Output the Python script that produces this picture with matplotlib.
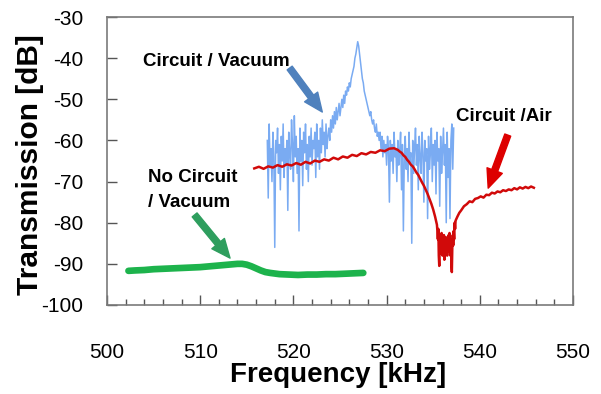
import numpy as np
import matplotlib
matplotlib.use("Agg")
import matplotlib.pyplot as plt
from matplotlib.ticker import MultipleLocator

plt.rcParams['font.family'] = ['Liberation Sans', 'DejaVu Sans']
plt.rcParams['axes.unicode_minus'] = False

# ---- Circuit / Vacuum (blue), sampled every 0.1 kHz from 517.2 kHz ----
vac_start = 517.2
vac_step = 0.1
vac_db = [
    -60, -74, -56, -66, -62, -70, -58, -64, -86, -60,
    -63, -57, -68, -61, -72, -59, -65, -56, -69, -62,
    -66, -60, -77, -58, -63, -67, -55, -61, -70, -54,
    -64, -59, -68, -62, -82, -57, -65, -60, -71, -58,
    -63, -56, -67, -61, -70, -59, -64, -57, -66, -60,
    -62, -58, -69, -56, -64, -60, -67, -57, -63, -55,
    -61, -58, -64, -56, -62, -59, -57, -60, -55, -58,
    -54, -57, -53, -56, -52, -55, -53, -51, -54, -52,
    -50, -52, -49, -51, -48, -49, -47, -48, -46, -47,
    -45, -44, -43, -42, -40, -39, -37.5, -36, -37, -39,
    -41, -43, -45, -46, -48, -49, -50, -51, -52, -53,
    -54, -53, -55, -56, -55, -57, -58, -56, -59, -58,
    -60, -58, -62, -59, -64, -60, -63, -61, -66, -59,
    -62, -75, -60, -65, -61, -68, -58, -64, -62, -70,
    -60, -66, -63, -58, -72, -61, -82, -64, -59, -67,
    -62, -70, -58, -65, -63, -85, -60, -68, -62, -57,
    -66, -61, -72, -59, -64, -68, -58, -63, -75, -60,
    -65, -62, -79, -59, -67, -63, -57, -70, -61, -66,
    -60, -73, -58, -65, -62, -76, -59, -68, -63, -57,
    -66, -61, -80, -58, -69, -62, -79, -60, -56, -67,
    -57,
]
vac_freq = vac_start + vac_step * np.arange(len(vac_db))

# ---- Circuit / Air (red) ----
air_freq = [
    515.8, 516.3, 516.8, 517.3, 517.8, 518.3, 518.8, 519.3, 519.8, 520.3,
    520.8, 521.3, 521.8, 522.3, 522.8, 523.3, 523.8, 524.3, 524.8, 525.3,
    525.8, 526.3, 526.8, 527.3, 527.8, 528.3, 528.8, 529.3, 529.8, 530.3,
    530.8,
    531.0, 531.2, 531.4, 531.6, 531.8, 532.0, 532.2, 532.4, 532.6, 532.8,
    533.0, 533.2, 533.4, 533.6, 533.8, 534.0, 534.2, 534.4, 534.6, 534.8,
    535.0, 535.2,
    535.40, 535.45, 535.50, 535.55, 535.60, 535.65, 535.70, 535.75, 535.80, 535.85,
    535.90, 535.95, 536.00, 536.05, 536.10, 536.15, 536.20, 536.25, 536.30, 536.35,
    536.40, 536.45, 536.50, 536.55, 536.60, 536.65, 536.70, 536.75, 536.80, 536.85,
    536.90, 536.95, 537.00, 537.05, 537.10, 537.15, 537.20, 537.25, 537.30, 537.35,
    537.40,
    537.6, 537.8, 538.0, 538.3, 538.6, 538.9, 539.2, 539.5, 539.8, 540.1,
    540.4, 540.7, 541.0, 541.3, 541.6, 541.9, 542.2, 542.5, 542.8, 543.1,
    543.4, 543.7, 544.0, 544.3, 544.6, 544.9, 545.2, 545.5, 545.8,
]
air_db = [
    -66.8, -66.4, -66.9, -66.3, -66.6, -66.0, -66.4, -65.8, -66.1, -65.5,
    -65.9, -65.2, -65.6, -64.9, -65.2, -64.6, -64.9, -64.2, -64.6, -63.9,
    -64.2, -63.5, -63.8, -63.1, -63.4, -62.8, -63.0, -62.4, -62.6, -62.0,
    -61.9,
    -62.1, -62.3, -62.7, -63.0, -63.6, -64.0, -64.7, -65.2, -65.9, -66.3,
    -67.0, -67.8, -68.4, -69.3, -70.2, -71.0, -72.0, -73.0, -74.2, -75.4,
    -76.8, -78.5,
    -80.5, -82, -84, -81.5, -88, -90.5, -84, -86, -83, -87.5,
    -82.5, -85, -88, -84, -86.5, -83, -89, -85, -87, -83.5,
    -86, -84, -88, -85, -87, -83, -86, -82.5, -85, -88,
    -84, -90, -92, -86, -83, -85.5, -82, -84, -80, -81.5,
    -79.5,
    -78.5, -77.6, -77.0, -76.0, -75.5, -74.8, -75.0, -74.2, -74.0, -73.6,
    -73.9, -73.2, -73.3, -72.7, -72.9, -72.4, -72.6, -72.1, -72.3, -71.9,
    -72.1, -71.6, -71.9, -71.4, -71.7, -71.3, -71.6, -71.2, -71.5,
]

# ---- No Circuit / Vacuum (green) ----
nc_freq = [502.3, 503, 504, 505, 506, 507, 508, 509, 510, 511, 512, 513,
           514, 514.5, 515, 515.5, 516, 516.5, 517, 517.5, 518.5, 519.5,
           520.5, 521.5, 522.5, 523.5, 524.5, 525.5, 526.5, 527.5]
nc_db = [-91.7, -91.6, -91.5, -91.3, -91.2, -91.1, -91.0, -90.9, -90.8, -90.6,
         -90.4, -90.2, -90.0, -90.0, -90.2, -90.6, -91.1, -91.6, -92.0, -92.2,
         -92.5, -92.6, -92.7, -92.6, -92.6, -92.5, -92.5, -92.4, -92.3, -92.2]

x_ticks = [500, 510, 520, 530, 540, 550]
y_ticks = [-100, -90, -80, -70, -60, -50, -40, -30]

fig = plt.figure(figsize=(6.01, 3.94), dpi=100)
ax = fig.add_axes([107/601, 1-305/394, 466/601, 288/394])

ax.plot(vac_freq, vac_db, color='#7aabf2', lw=1.1, zorder=2)
ax.plot(air_freq, air_db, color='#d10a0a', lw=1.8, zorder=3)
ax.plot(nc_freq, nc_db, color='#1db34c', lw=4.8, solid_capstyle='round', zorder=4)

ax.set_xlim(500, 550)
ax.set_ylim(-100, -30)
ax.set_xticks(x_ticks)
ax.set_yticks(y_ticks)
ax.xaxis.set_minor_locator(MultipleLocator(2))
ax.tick_params(axis='both', which='major', direction='in', length=7, width=1,
               color='#555555', labelsize=15)
ax.tick_params(axis='x', which='major', pad=27)
ax.tick_params(axis='y', which='major', pad=17)
ax.tick_params(axis='x', which='minor', direction='in', length=4, width=1,
               color='#555555')
for s in ax.spines.values():
    s.set_color('#7a7a7a')
    s.set_linewidth(1.2)

ax.set_xlabel('Frequency [kHz]', fontsize=20, fontweight='bold', va='center')
ax.xaxis.set_label_coords(0.496, -0.243)
ax.set_ylabel('Transmission [dB]', fontsize=21.5, fontweight='bold', va='center')
ax.yaxis.set_label_coords(-0.165, 0.486)

# Labels
ax.text(511.7, -40.9, 'Circuit / Vacuum', fontsize=13.5, fontweight='bold',
        ha='center', va='center')
ax.text(542.6, -54.1, 'Circuit /Air', fontsize=13.5, fontweight='bold',
        ha='center', va='center')
ax.text(504.4, -69.1, 'No Circuit', fontsize=13.5, fontweight='bold',
        ha='left', va='center')
ax.text(504.4, -75.0, '/ Vacuum', fontsize=13.5, fontweight='bold',
        ha='left', va='center')

style = 'simple,head_length=0.75,head_width=0.65,tail_width=0.25'
ax.annotate('', xy=(523.1, -53.1), xytext=(519.6, -42.4),
            arrowprops=dict(arrowstyle=style, color='#4f81bd', mutation_scale=18,
                            shrinkA=0, shrinkB=0))
ax.annotate('', xy=(540.9, -71.6), xytext=(543.0, -58.7),
            arrowprops=dict(arrowstyle=style, color='#dd0000', mutation_scale=18,
                            shrinkA=0, shrinkB=0))
ax.annotate('', xy=(513.2, -88.6), xytext=(509.4, -78.1),
            arrowprops=dict(arrowstyle=style, color='#2e9e5e', mutation_scale=18,
                            shrinkA=0, shrinkB=0))

fig.savefig('out.png', dpi=100)
